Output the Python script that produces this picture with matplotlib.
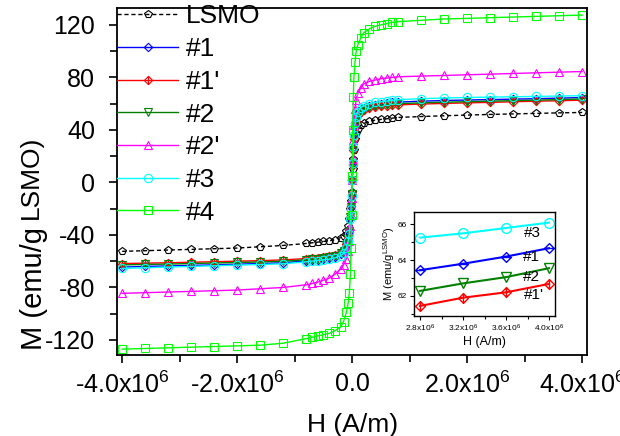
import matplotlib.pyplot as plt
import numpy as np
from matplotlib.path import Path
from matplotlib.ticker import MultipleLocator, FuncFormatter, FixedLocator

plt.rcParams['font.family'] = ['Liberation Sans', 'DejaVu Sans']
plt.rcParams['mathtext.fontset'] = 'custom'
plt.rcParams['mathtext.rm'] = 'Liberation Sans'
plt.rcParams['mathtext.it'] = 'Liberation Sans:italic'
plt.rcParams['mathtext.bf'] = 'Liberation Sans:bold'
plt.rcParams['axes.unicode_minus'] = False

# field values in units of 10^6 A/m
h_mega = [-4.0, -3.6, -3.2, -2.8, -2.4, -2.0, -1.6, -1.2, -0.8, -0.7, -0.6, -0.5, -0.4, -0.3,
          -0.2, -0.15, -0.1, -0.07, -0.05, -0.03, -0.02, -0.01, 0.0, 0.01, 0.02, 0.03, 0.05,
          0.07, 0.1, 0.15, 0.2, 0.3, 0.4, 0.5, 0.6, 0.7, 0.8, 1.2, 1.6, 2.0, 2.4, 2.8, 3.2,
          3.6, 4.0]

m_lsmo = [-52.5, -52, -51.5, -51, -50.5, -50, -49, -48, -46.5, -46, -45.5, -45, -44.5, -43.5,
          -42, -40.5, -37, -33, -28, -20, -14, -7, 1, 10, 18, 25, 33,
          38, 41, 43.5, 45, 46.5, 47.5, 48, 48.5, 49, 49.5, 50.2, 50.8, 51.3, 51.8, 52.2, 52.6,
          53, 53.3]
m_1 = [-64.5, -64, -63.6, -63.2, -62.8, -62.3, -61.8, -61.2, -59.8, -59.3, -58.8, -58.2, -57.5, -56.5,
       -54.5, -52.5, -48.5, -43.5, -37.5, -27, -19, -9.5, 2, 14, 26, 35, 44,
       49, 52.8, 55.3, 56.8, 58.3, 59.3, 60, 60.5, 60.9, 61.2, 61.9, 62.4, 62.8, 63.1, 63.44, 63.8,
       64.2, 64.67]
m_1p = [-61.8, -61.5, -61.2, -60.8, -60.4, -60.0, -59.6, -59.0, -58.0, -57.6, -57.2, -56.6, -56, -55,
        -53, -51, -47, -42, -36, -26, -18, -9, 2, 13, 24.5, 33, 42,
        47, 51, 53.5, 55, 56.4, 57.3, 57.9, 58.4, 58.8, 59.1, 59.7, 60.2, 60.6, 61.0, 61.44, 61.9,
        62.2, 62.67]
m_2 = [-62.8, -62.5, -62.2, -61.8, -61.4, -61.0, -60.6, -60.0, -59.0, -58.6, -58.2, -57.6, -57, -56,
       -54, -52, -48, -43, -37, -26.5, -18.5, -9, 2, 13.5, 25, 34, 43,
       48, 51.8, 54.3, 55.8, 57.2, 58.2, 58.8, 59.3, 59.7, 60, 60.6, 61.1, 61.5, 61.9, 62.28, 62.7,
       63.05, 63.55]
m_2p = [-84.5, -84, -83.5, -83, -82.5, -82, -81, -80, -78, -77, -76, -74.5, -73, -70,
        -66, -63, -58, -52, -45, -33, -24, -12, 2, 18, 32, 44, 56,
        63, 68, 72, 75, 77, 78, 79, 79.5, 80, 80.5, 81, 81.5, 82, 82.5, 83, 83.5,
        84, 84.5]
m_3 = [-65.5, -65, -64.5, -64, -63.5, -63, -62.5, -62, -60.5, -60, -59.5, -59, -58.5, -57.5,
       -56, -54, -50, -45, -39, -28, -20, -10, 2, 15, 27, 36, 45,
       50, 54, 57, 58.5, 60, 61, 61.5, 62, 62.5, 63, 63.8, 64.3, 64.7, 65.0, 65.26, 65.5,
       65.8, 66.1]
m_4 = [-127, -126.5, -126, -125.5, -125, -124.5, -124, -122.5, -119, -118, -117, -116, -115, -113,
       -110, -106, -99, -92, -84, -70, -50, -25, 5, 40, 65, 80, 92,
       100, 105, 110, 114, 117, 119, 120, 121, 122, 122.5, 123.5, 124.5, 125, 125.5, 126, 126.5,
       127, 127.5]

labels = ['LSMO', '#1', "#1'", '#2', "#2'", '#3', '#4']
inset_labels = ['#3', '#1', '#2', "#1'"]

H = np.array(h_mega) * 1e6

# Origin style diamonds with a dash / bar inside
dia_dash = Path([(0, 1), (1, 0), (0, -1), (-1, 0), (0, 1), (-1, 0), (1, 0)],
                [Path.MOVETO, Path.LINETO, Path.LINETO, Path.LINETO, Path.CLOSEPOLY,
                 Path.MOVETO, Path.LINETO])
dia_bar = Path([(0, 1), (1, 0), (0, -1), (-1, 0), (0, 1), (0, 1), (0, -1)],
               [Path.MOVETO, Path.LINETO, Path.LINETO, Path.LINETO, Path.CLOSEPOLY,
                Path.MOVETO, Path.LINETO])

styles = [
    (m_lsmo, 'black', 'p', '--'),
    (m_1, '#0000ff', dia_dash, '-'),
    (m_1p, '#ff0000', dia_bar, '-'),
    (m_2, '#008000', 'v', '-'),
    (m_2p, '#ff00ff', '^', '-'),
    (m_3, '#00ffff', 'o', '-'),
    (m_4, '#00ff00', 's', '-'),
]

fig = plt.figure(figsize=(6.2, 4.36), dpi=100)
ax = fig.add_axes([0.189, 0.186, 0.758, 0.796])

for (m, c, mk, ls), lab in zip(styles, labels):
    line, = ax.plot(H, m, color=c, ls=ls, lw=1.0, marker=mk, ms=6, mfc='none',
                    mew=0.8, label=lab)
    if ls == '--':
        line.set_dashes((3, 2))

ax.set_xlim(-4.087e6, 4.087e6)
ax.set_ylim(-131.4, 133)
ax.xaxis.set_major_locator(MultipleLocator(2e6))
ax.xaxis.set_minor_locator(MultipleLocator(1e6))
ax.yaxis.set_major_locator(MultipleLocator(40))
ax.yaxis.set_minor_locator(MultipleLocator(20))


def fmt_x(v, pos):
    if abs(v) < 1:
        return '0.0'
    return r'%.1fx10$^{6}$' % (v / 1e6)


ax.xaxis.set_major_formatter(FuncFormatter(fmt_x))
ax.yaxis.set_major_formatter(FuncFormatter(lambda v, p: '%d' % v))
ax.tick_params(which='both', direction='out', width=1.2, labelsize=18)
ax.tick_params(which='major', length=6)
ax.tick_params(which='minor', length=5)
ax.tick_params(axis='y', pad=10)
ax.tick_params(axis='x', pad=6)
for s in ax.spines.values():
    s.set_linewidth(1.3)

ax.set_xlabel('H (A/m)', fontsize=19, labelpad=11)

# y label: "M (emu/g" with a raised, smaller "LSMO)" as in the original
W, Hpx = 620, 436
t1 = fig.text(42 / W, 1 - 350 / Hpx, 'M (emu/g', rotation=90, rotation_mode='anchor',
              ha='left', va='baseline', fontsize=21)
fig.canvas.draw()
top = t1.get_window_extent().y1
fig.text(38 / W, (top + 8) / Hpx, 'LSMO)', rotation=90, rotation_mode='anchor',
         ha='left', va='baseline', fontsize=19)

ax.legend(loc='upper left', bbox_to_anchor=(0.0, 1.01), frameon=False, fontsize=19,
          numpoints=1, handlelength=2.3, handletextpad=0.3, labelspacing=0.33,
          borderaxespad=0, borderpad=0)

# inset
ins = fig.add_axes([0.668, 0.275, 0.227, 0.239])
sel = H >= 2.7e6
for idx in [1, 2, 3, 5]:
    m, c, mk, ls = styles[idx]
    ins.plot(H[sel], np.array(m)[sel], color=c, ls=ls, lw=1.5, marker=mk, ms=7,
             mfc='none', mew=1.0)
ins.set_xlim(2.745e6, 4.055e6)
ins.set_ylim(60.87, 66.70)
ins.xaxis.set_major_locator(FixedLocator([2.8e6, 3.2e6, 3.6e6, 4.0e6]))
ins.xaxis.set_minor_locator(FixedLocator([3.0e6, 3.4e6, 3.8e6]))
ins.xaxis.set_major_formatter(FuncFormatter(lambda v, p: r'%.1fx10$^{6}$' % (v / 1e6)))
ins.yaxis.set_major_locator(MultipleLocator(2))
ins.yaxis.set_minor_locator(MultipleLocator(1))
ins.tick_params(which='both', direction='out', width=0.8, labelsize=6, pad=2)
ins.tick_params(which='major', length=3)
ins.tick_params(which='minor', length=2)
for s in ins.spines.values():
    s.set_linewidth(1.0)
ins.set_xlabel('H (A/m)', fontsize=9, labelpad=1)
ins.set_ylabel(r'M (emu/g$^{\mathrm{LSMO}}$)', fontsize=8, labelpad=1)

inset_pos = [(3.85e6, 65.5), (3.84e6, 64.17), (3.84e6, 63.06), (3.86e6, 62.06)]
for lab, (x, y) in zip(inset_labels, inset_pos):
    ins.text(x, y, lab, fontsize=11, ha='center', va='center')

fig.savefig('out.png', dpi=100)
